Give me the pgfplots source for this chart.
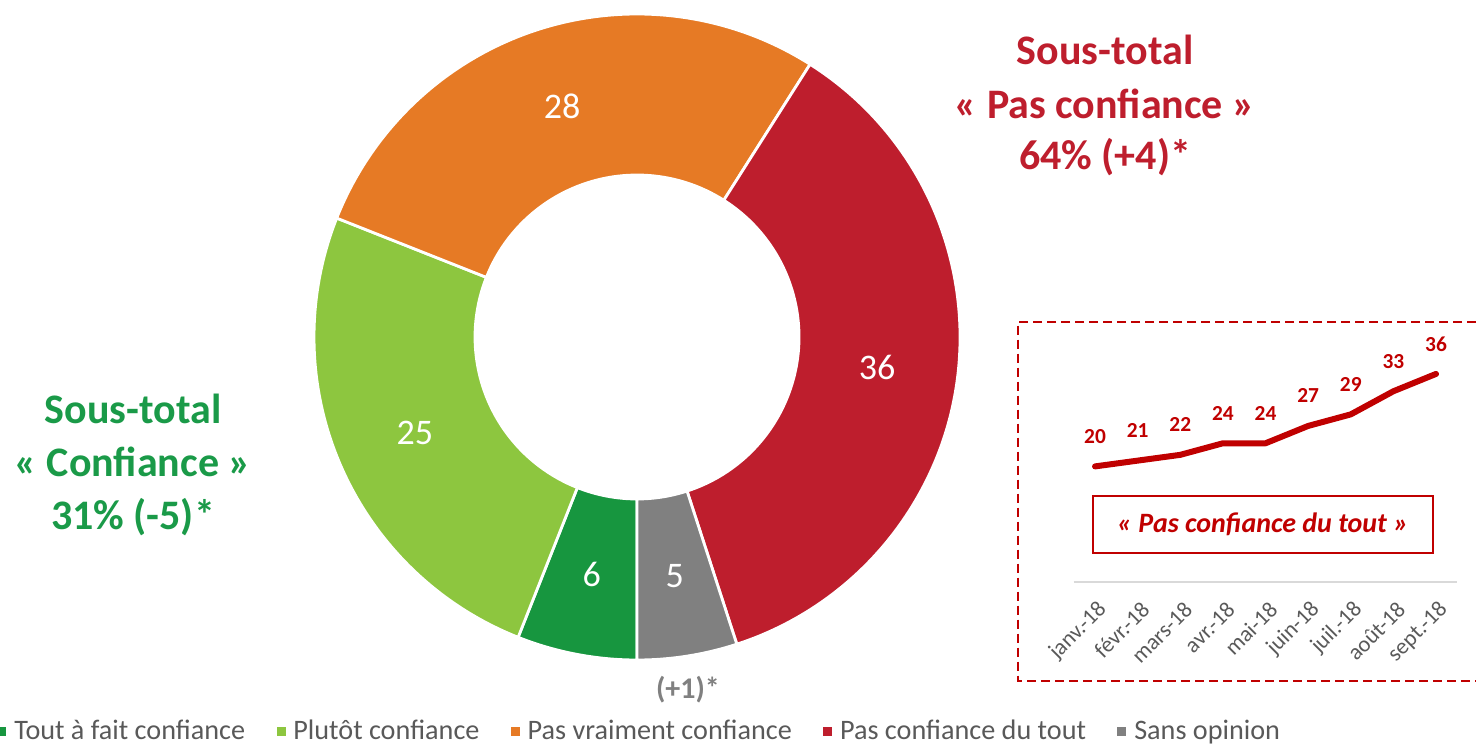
\documentclass[border=0pt]{standalone}
\usepackage{fontspec}
\setmainfont{Carlito}
\usepackage{pgfplots}
\usepackage{pgfplotstable}
\pgfplotsset{compat=1.18}

\definecolor{dkgreen}{HTML}{17963F}
\definecolor{ltgreen}{HTML}{8DC63F}
\definecolor{orng}{HTML}{E67A25}
\definecolor{rd}{HTML}{BE1E2D}
\definecolor{gry}{HTML}{808080}
\definecolor{txtgreen}{HTML}{1A9A48}
\definecolor{insetred}{HTML}{C00000}
\definecolor{leggray}{HTML}{595959}
\definecolor{axgray}{HTML}{D9D9D9}

% donut shares (percent), clockwise from 6 o'clock
\pgfplotstableread{
idx value
0 6
1 25
2 28
3 36
4 5
}\donutdata

% "Pas confiance du tout" monthly series
\pgfplotstableread{
idx value
0 20
1 21
2 22
3 24
4 24
5 27
6 29
7 33
8 36
}\insetdata

\pgfplotstablegetelem{0}{value}\of\donutdata\let\vA\pgfplotsretval
\pgfplotstablegetelem{1}{value}\of\donutdata\let\vB\pgfplotsretval
\pgfplotstablegetelem{2}{value}\of\donutdata\let\vC\pgfplotsretval
\pgfplotstablegetelem{3}{value}\of\donutdata\let\vD\pgfplotsretval
\pgfplotstablegetelem{4}{value}\of\donutdata\let\vE\pgfplotsretval
\pgfmathsetmacro\aA{270}
\pgfmathsetmacro\aB{\aA-3.6*\vA}
\pgfmathsetmacro\aC{\aB-3.6*\vB}
\pgfmathsetmacro\aD{\aC-3.6*\vC}
\pgfmathsetmacro\aE{\aD-3.6*\vD}
\pgfmathsetmacro\aF{\aE-3.6*\vE}

\newcommand{\sector}[3]{%
  \fill[#3, draw=white, line width=1.4pt, line join=miter]
    (axis cs:{637+323*cos(#1)},{407+323*sin(#1)})
    arc[start angle=#1, end angle=#2, radius=161.5pt]
    -- (axis cs:{637+162*cos(#2)},{407+162*sin(#2)})
    arc[start angle=#2, end angle=#1, radius=81pt] -- cycle;}
\newcommand{\seglabel}[3]{%
  \node[text=white, font=\fontsize{18}{20}\selectfont]
    at (axis cs:{637+242*cos((#1+#2)/2)},{407+242*sin((#1+#2)/2)}) {#3};}
\newcommand{\legsquare}[1]{\fill[#1] (0pt,-2pt) rectangle (4pt,2pt); \path (6pt,0pt);}

\begin{document}%
\begin{tikzpicture}
\begin{axis}[
  at={(0,0)}, anchor=south west,
  scale only axis, width=738pt, height=372pt,
  xmin=0, xmax=1476, ymin=0, ymax=744,
  hide axis, clip=false,
  legend columns=-1,
  legend style={draw=none, fill=none, inner sep=0pt,
    at={(axis description cs:-0.0020,0.0175)}, anchor=west,
    font=\fontsize{14.1}{17}\selectfont, text=leggray,
    /tikz/every even column/.append style={column sep=13.7pt}},
]
\sector{\aA}{\aB}{dkgreen}
\sector{\aB}{\aC}{ltgreen}
\sector{\aC}{\aD}{orng}
\sector{\aD}{\aE}{rd}
\sector{\aE}{\aF}{gry}
\seglabel{\aA}{\aB}{\vA}
\seglabel{\aB}{\aC}{\vB}
\seglabel{\aC}{\aD}{\vC}
\seglabel{\aD}{\aE}{\vD}
\seglabel{\aE}{\aF}{\vE}

\addlegendimage{legend image code/.code={\legsquare{dkgreen}}}
\addlegendentry{Tout à fait confiance}
\addlegendimage{legend image code/.code={\legsquare{ltgreen}}}
\addlegendentry{Plutôt confiance}
\addlegendimage{legend image code/.code={\legsquare{orng}}}
\addlegendentry{Pas vraiment confiance}
\addlegendimage{legend image code/.code={\legsquare{rd}}}
\addlegendentry{Pas confiance du tout}
\addlegendimage{legend image code/.code={\legsquare{gry}}}
\addlegendentry{Sans opinion}

% sub-totals
\begin{scope}[every node/.style={anchor=base, font=\fontsize{21}{25}\selectfont\bfseries}]
\node[text=txtgreen] at (axis cs:133,320.7) {Sous-total};
\node[text=txtgreen] at (axis cs:133,267.3) {« Confiance »};
\node[text=txtgreen] at (axis cs:133,214) {31\% (-5)*};
\node[text=rd] at (axis cs:1105,679) {Sous-total};
\node[text=rd] at (axis cs:1105,625.7) {« Pas confiance »};
\node[text=rd] at (axis cs:1105,574) {64\% (+4)*};
\end{scope}
\node[anchor=base, text=gry, font=\fontsize{15}{18}\selectfont\bfseries] at (axis cs:688,46) {(+1)*};

% inset frame and caption box
\draw[insetred, line width=1pt, dash pattern=on 4.5pt off 2.5pt]
  (axis cs:1490,422.3) -- (axis cs:1018,422.3) -- (axis cs:1018,63.3) -- (axis cs:1490,63.3);
\node[draw=insetred, line width=1pt, minimum width=170pt, minimum height=28.8pt,
  inner sep=0pt, text=insetred, font=\fontsize{14}{16}\selectfont\bfseries\itshape]
  at (axis cs:1262.7,219.5) {« Pas confiance du tout »};
\end{axis}

\begin{axis}[
  at={(536.85pt,81pt)}, anchor=south west,
  scale only axis, width=191.8pt, height=115.6pt,
  xmin=-0.5, xmax=8.5, ymin=0, ymax=40,
  axis x line=bottom, axis y line=none,
  x axis line style={axgray, line width=0.75pt, -},
  xtick={0,...,8},
  xticklabels={janv.-18, févr.-18, mars-18, avr.-18, mai-18, juin-18, juil.-18, août-18, sept.-18},
  major tick length=0pt,
  xticklabel style={xshift=6.5pt, yshift=-9.5pt, rotate=45, anchor=east,
    font=\fontsize{11.3}{13}\selectfont, text=leggray},
  /pgf/number format/assume math mode=true,
  clip=false,
]
\addplot[insetred, line width=3pt, line join=round, line cap=round, mark=none,
  nodes near coords,
  every node near coord/.append style={anchor=center, yshift=15pt, text=insetred,
    font=\fontsize{10.7}{12}\selectfont\bfseries}]
  table[x=idx, y=value] {\insetdata};
\end{axis}
\pgfresetboundingbox
\useasboundingbox (0,0) rectangle (738pt,372pt);
\end{tikzpicture}%
\end{document}
